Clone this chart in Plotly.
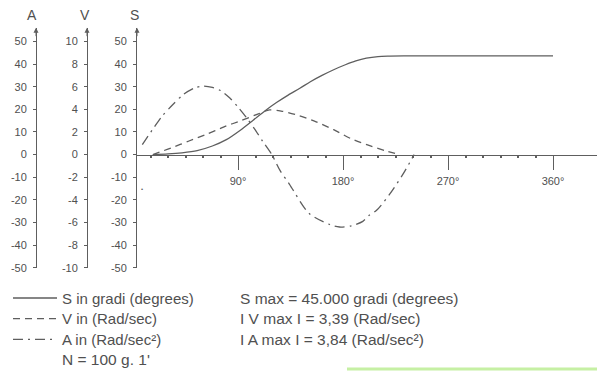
import plotly.graph_objects as go

# ---------------- data ----------------
deg_S = [17, 30, 42, 55, 68, 80, 92, 103, 113, 123, 133, 143, 152, 162, 172, 182, 191, 200, 210, 220, 232, 360]
S_val = [0, 0.3, 0.8, 1.75, 3.8, 6.6, 10.8, 15.2, 19.3, 23, 26.3, 29.3, 32.2, 35, 37.5, 39.7, 41.4, 42.6, 43.3, 43.5, 43.6, 43.6]

deg_V = [17, 33, 48, 63, 78, 92.5, 107.5, 117, 127, 142, 157, 172, 187, 201, 216, 228]
V_val = [0, 0.6, 1.2, 1.8, 2.45, 3.0, 3.6, 3.95, 3.85, 3.45, 2.9, 2.2, 1.4, 0.85, 0.35, 0]

deg_A = [8, 18, 25, 34, 43, 53, 60, 68, 75, 83, 90, 97, 104, 111, 119, 126, 134, 151, 169, 177, 187, 197, 202, 209, 220, 231, 241]
A_val = [4.4, 12, 17, 22, 26.5, 29.5, 30.3, 29.7, 28.3, 25, 21, 16.5, 11.5, 6, 0, -7, -13, -26, -31, -32, -31.5, -29.5, -27, -24.5, -17.5, -9, 0]

x_tickvals = [90, 180, 270, 360]
x_ticktext = ["90°", "180°", "270°", "360°"]
x_minor = [15, 30, 45, 60, 75, 105, 120, 135, 150, 165, 195, 210, 225, 240, 255, 285, 300, 315, 330, 345]

SA_ticks = [50, 40, 30, 20, 10, 0, -10, -20, -30, -40, -50]
V_ticks = [10, 8, 6, 4, 2, 0, -2, -4, -6, -8, -10]

legend_names = ["S in gradi (degrees)", "V in (Rad/sec)", "A in (Rad/sec²)"]
right_notes = ["S max = 45.000 gradi (degrees)", "I V max I = 3,39 (Rad/sec)", "I A max I = 3,84 (Rad/sec²)"]
note_N = "N = 100 g. 1'"

# ---------------- layout geometry (window pixels) ----------------
WIN_W, WIN_H = 605, 379
OFF = 8                                   # page body margin
FW, FH = WIN_W - OFF, WIN_H - OFF
FONT = "Liberation Sans, Arial, Helvetica, sans-serif"
INK = "#505050"
LINE = "#5e5e5e"

def pX(X):
    return (X - OFF) / FW

def pY(Y):
    return (WIN_H - Y) / FH

px_S, px_V, px_A = 137, 87, 36            # vertical axis positions
px_deg0, px_per_deg = 133, 1.1667         # x mapping
py_top, py_bot, py_zero = 28, 272, 157    # vertical axis extent
px_per_unit = (py_bot - py_zero) / 50.0
y_lo = -50
y_hi = y_lo + (py_bot - py_top) / px_per_unit

x_lo = (px_S - px_deg0) / px_per_deg
x_hi = (WIN_W - px_deg0) / px_per_deg
d0, d1 = pY(py_bot), pY(py_top)
xpos = d0 + (0 - y_lo) / (y_hi - y_lo) * (d1 - d0)

rows = [303, 324, 345, 365]               # text rows of the key (window px)

fig = go.Figure()
fig.add_trace(go.Scatter(x=deg_S, y=S_val, mode="lines", name=legend_names[0], yaxis="y", legend="legend",
                         line=dict(color=LINE, width=1.3, shape="spline", smoothing=0.8)))
fig.add_trace(go.Scatter(x=deg_V, y=V_val, mode="lines", name=legend_names[1], yaxis="y2", legend="legend2",
                         line=dict(color=LINE, width=1.3, dash="7px,5px", shape="spline", smoothing=0.8)))
fig.add_trace(go.Scatter(x=deg_A, y=A_val, mode="lines", name=legend_names[2], yaxis="y3", legend="legend3",
                         line=dict(color=LINE, width=1.3, dash="10px,5px,2px,5px", shape="spline", smoothing=0.8)))

yax_common = dict(showline=True, linecolor=LINE, linewidth=1, ticks="outside", ticklen=3,
                  tickcolor=LINE, tickwidth=1, showgrid=False, zeroline=False,
                  tickfont=dict(size=11, color=INK, family=FONT), ticklabelstandoff=4,
                  tickmode="array", fixedrange=True)

def leg(row):
    return dict(x=0, y=pY(rows[row]), xanchor="left", yanchor="middle", itemwidth=44,
                font=dict(size=15, color=INK, family=FONT), bgcolor="rgba(0,0,0,0)")

fig.update_layout(
    width=FW, height=FH,
    margin=dict(l=0, r=0, t=0, b=0),
    paper_bgcolor="white", plot_bgcolor="white",
    font=dict(family=FONT, color=INK),
    xaxis=dict(domain=[pX(px_S), 1], range=[x_lo, x_hi], anchor="free", position=xpos,
               showline=True, linecolor=LINE, linewidth=1, showgrid=False, zeroline=False,
               tickmode="array", tickvals=x_tickvals, ticktext=x_ticktext,
               ticks="outside", ticklen=14, tickcolor=LINE, tickwidth=1,
               tickfont=dict(size=11, color=INK, family=FONT), ticklabelstandoff=2,
               minor=dict(tickvals=x_minor, ticks="outside", ticklen=2, tickwidth=2, tickcolor=LINE)),
    yaxis=dict(domain=[d0, d1], range=[y_lo, y_hi], anchor="x",
               tickvals=SA_ticks, ticktext=[str(v) for v in SA_ticks], **yax_common),
    yaxis2=dict(overlaying="y", anchor="free", position=pX(px_V), range=[y_lo / 5, y_hi / 5],
                tickvals=V_ticks, ticktext=[str(v) for v in V_ticks], **yax_common),
    yaxis3=dict(overlaying="y", anchor="free", position=pX(px_A), range=[y_lo, y_hi],
                tickvals=SA_ticks, ticktext=[str(v) for v in SA_ticks], **yax_common),
    showlegend=True,
    legend=leg(0), legend2=leg(1), legend3=leg(2),
)

ann = []
for name, pxx in (("A", 32), ("V", 85), ("S", 134)):
    ann.append(dict(xref="paper", yref="paper", x=pX(pxx), y=pY(15), text=name,
                    xanchor="center", yanchor="middle",
                    showarrow=False, font=dict(size=14, color=INK, family=FONT)))
for pxx in (px_A, px_V, px_S):
    ann.append(dict(xref="paper", yref="paper", x=pX(pxx), y=d1, text="", showarrow=True,
                    ax=0, ay=10, arrowhead=2, arrowsize=1, arrowwidth=1, arrowcolor=LINE))
for i, t in enumerate(right_notes):
    ann.append(dict(xref="paper", yref="paper", x=pX(238), y=pY(rows[i]), text=t,
                    xanchor="left", yanchor="middle", showarrow=False,
                    font=dict(size=15.5, color=INK, family=FONT)))
ann.append(dict(xref="paper", yref="paper", x=pX(60), y=pY(rows[3]), text=note_N,
                xanchor="left", yanchor="middle", showarrow=False,
                font=dict(size=15.5, color=INK, family=FONT)))
ann.append(dict(xref="paper", yref="paper", x=pX(142), y=pY(192), text="•",
                xanchor="center", yanchor="middle", showarrow=False,
                font=dict(size=6, color=LINE, family=FONT)))
fig.update_layout(annotations=ann)

fig.add_shape(type="line", xref="paper", yref="paper", x0=pX(347), x1=1, y0=pY(375), y1=pY(375),
              line=dict(color="#c6f0a4", width=3))

fig.write_html("out.html")
